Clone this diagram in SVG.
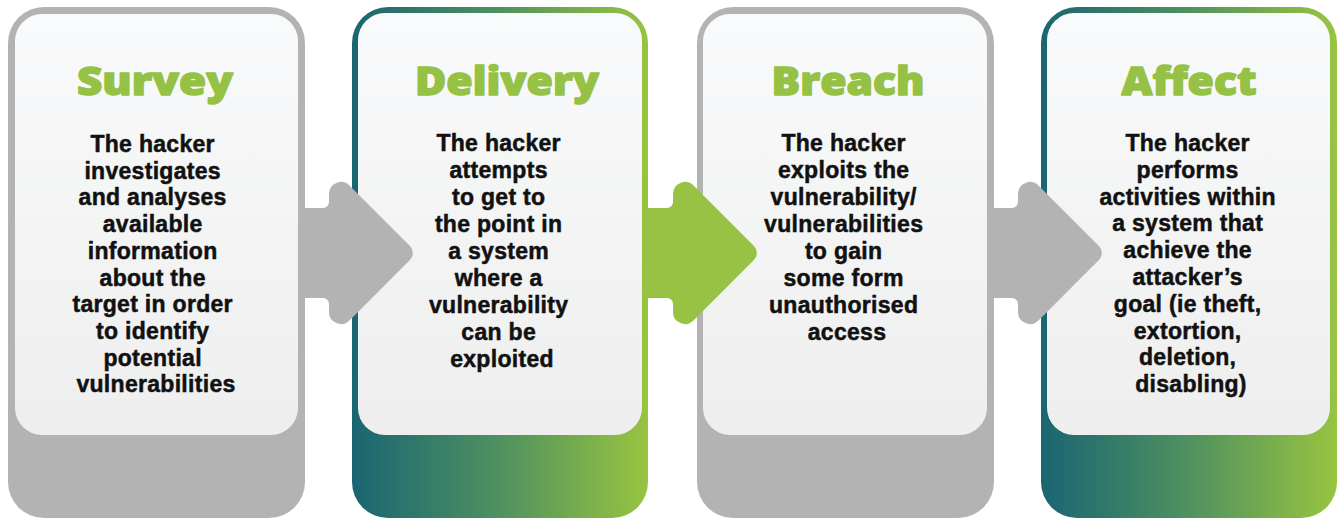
<svg xmlns="http://www.w3.org/2000/svg" xmlns:xlink="http://www.w3.org/1999/xlink" width="1338" height="518" viewBox="0 0 1338 518">
  <style>
    .frame-gray { fill: #b3b3b3; }
    .frame-grad { fill: url(#frameGrad); }
    .panel { fill: url(#panelGrad); }
    .title { font-family: "Open Sans", "DejaVu Sans", sans-serif; font-weight: 800; font-size: 38px; fill: #95c144; stroke: #95c144; stroke-width: 1.4px; stroke-linejoin: round; text-anchor: middle; }
    .body { font-family: "Liberation Sans", Arial, sans-serif; font-weight: 700; font-size: 23px; fill: #111111; stroke: #111111; stroke-width: 0.5px; stroke-linejoin: round; text-anchor: middle; letter-spacing: 0.3px; }
    .arrow-gray { fill: #b3b3b3; }
    .arrow-green { fill: #97c243; }
  </style>
  <defs>
    <linearGradient id="frameGrad" x1="0" y1="0" x2="1" y2="0">
      <stop offset="0" stop-color="#1a6572"/>
      <stop offset="0.5" stop-color="#4f9160"/>
      <stop offset="1" stop-color="#98c440"/>
    </linearGradient>
    <linearGradient id="panelGrad" x1="0" y1="0" x2="0" y2="1">
      <stop offset="0" stop-color="#f9fafb"/>
      <stop offset="1" stop-color="#eeeeee"/>
    </linearGradient>
    <!-- block arrow: shaft with a rounded right-angled head -->
    <path id="blockArrow" d="M 299 208 H 323 A 6 6 0 0 0 329 202 V 194 A 12 12 0 0 1 349.5 185.5 L 409.95 245.95 A 10 10 0 0 1 409.95 260.05 L 349.5 320.5 A 12 12 0 0 1 329 312 V 304 A 6 6 0 0 0 323 298 H 299 Z"/>
  </defs>

  <rect width="1338" height="518" fill="#ffffff"/>

  <g id="survey">
    <rect class="frame-gray" x="8" y="7" width="297" height="511" rx="36"/>
    <rect class="panel" x="15" y="14" width="283" height="421" rx="27"/>
    <text class="title" x="155" y="95" textLength="156" lengthAdjust="spacingAndGlyphs">Survey</text>
    <text class="body" y="152">
      <tspan x="156">The hacker</tspan>
      <tspan x="156" dy="26.7">investigates</tspan>
      <tspan x="156" dy="26.7">and analyses</tspan>
      <tspan x="156" dy="26.7">available</tspan>
      <tspan x="156" dy="26.7">information</tspan>
      <tspan x="156" dy="26.7">about the</tspan>
      <tspan x="156" dy="26.7">target in order</tspan>
      <tspan x="156" dy="26.7">to identify</tspan>
      <tspan x="156" dy="26.7">potential</tspan>
      <tspan x="156" dy="26.7">vulnerabilities</tspan>
    </text>
  </g>

  <g id="delivery">
    <rect class="frame-grad" x="352" y="7" width="296" height="511" rx="36"/>
    <rect class="panel" x="358" y="13" width="284" height="422" rx="27"/>
    <text class="title" x="507" y="95" textLength="184" lengthAdjust="spacingAndGlyphs">Delivery</text>
    <text class="body" y="151">
      <tspan x="502">The hacker</tspan>
      <tspan x="502" dy="27">attempts</tspan>
      <tspan x="502" dy="27">to get to</tspan>
      <tspan x="502" dy="27">the point in</tspan>
      <tspan x="502" dy="27">a system</tspan>
      <tspan x="502" dy="27">where a</tspan>
      <tspan x="502" dy="27">vulnerability</tspan>
      <tspan x="502" dy="27">can be</tspan>
      <tspan x="502" dy="27">exploited</tspan>
    </text>
  </g>

  <g id="breach">
    <rect class="frame-gray" x="697" y="7" width="297" height="511" rx="36"/>
    <rect class="panel" x="703" y="14" width="284" height="421" rx="27"/>
    <text class="title" x="848" y="95" textLength="153" lengthAdjust="spacingAndGlyphs">Breach</text>
    <text class="body" y="151">
      <tspan x="847">The hacker</tspan>
      <tspan x="847" dy="27">exploits the</tspan>
      <tspan x="847" dy="27">vulnerability/</tspan>
      <tspan x="847" dy="27">vulnerabilities</tspan>
      <tspan x="847" dy="27">to gain</tspan>
      <tspan x="847" dy="27">some form</tspan>
      <tspan x="847" dy="27">unauthorised</tspan>
      <tspan x="847" dy="27">access</tspan>
    </text>
  </g>

  <g id="affect">
    <rect class="frame-grad" x="1041" y="7" width="296" height="511" rx="36"/>
    <rect class="panel" x="1047" y="13" width="283" height="422" rx="27"/>
    <text class="title" x="1189" y="95" textLength="135" lengthAdjust="spacingAndGlyphs">Affect</text>
    <text class="body" y="151">
      <tspan x="1191">The hacker</tspan>
      <tspan x="1191" dy="26.8">performs</tspan>
      <tspan x="1191" dy="26.8">activities within</tspan>
      <tspan x="1191" dy="26.8">a system that</tspan>
      <tspan x="1191" dy="26.8">achieve the</tspan>
      <tspan x="1191" dy="26.8">attacker’s</tspan>
      <tspan x="1191" dy="26.8">goal (ie theft,</tspan>
      <tspan x="1191" dy="26.8">extortion,</tspan>
      <tspan x="1191" dy="26.8">deletion,</tspan>
      <tspan x="1191" dy="26.8">disabling)</tspan>
    </text>
  </g>

  <g id="connectors">
    <use xlink:href="#blockArrow" class="arrow-gray"/>
    <use xlink:href="#blockArrow" class="arrow-green" x="344"/>
    <use xlink:href="#blockArrow" class="arrow-gray" x="689"/>
  </g>
</svg>
